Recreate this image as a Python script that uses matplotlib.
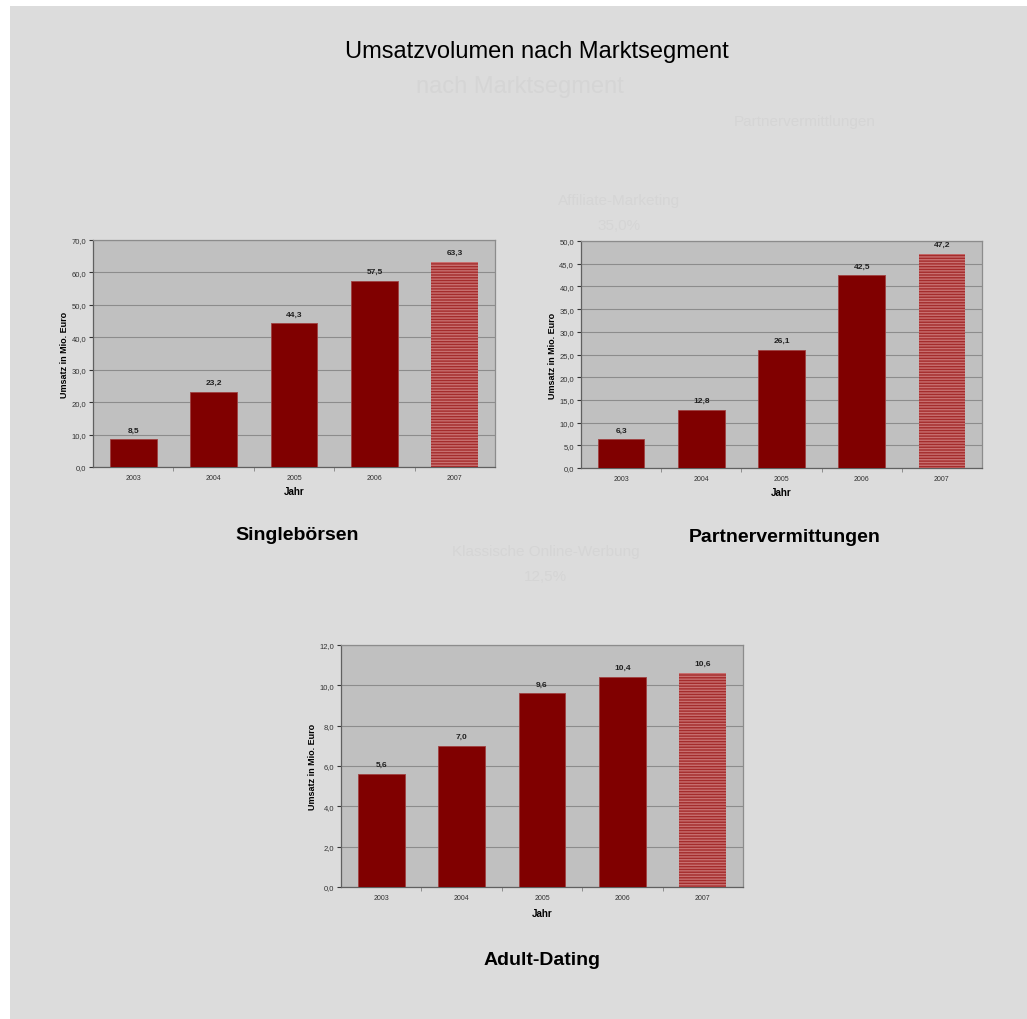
import matplotlib
matplotlib.use('Agg')
import matplotlib.pyplot as plt
from matplotlib.patches import Rectangle
from matplotlib.ticker import FuncFormatter, MultipleLocator, FixedLocator

plt.rcParams['font.family'] = ['Liberation Sans', 'DejaVu Sans']
plt.rcParams['hatch.linewidth'] = 1.0

# data (Umsatz in Mio. Euro)
years = ['2003', '2004', '2005', '2006', '2007']
singleboersen = [8.5, 23.2, 44.3, 57.5, 63.3]
partnervermittlungen = [6.3, 12.8, 26.1, 42.5, 47.2]
adult_dating = [5.6, 7.0, 9.6, 10.4, 10.6]

BG = '#dcdcdc'
PLOT_BG = '#c0c0c0'
BAR = '#800000'
GHOST = '#d5d5d5'

fig = plt.figure(figsize=(10.27, 10.20), dpi=100)
fig.patch.set_facecolor('white')
fig.patches.append(Rectangle((10 / 1027, 0), 1, 1013 / 1020, transform=fig.transFigure,
                             facecolor=BG, edgecolor='none', zorder=-10))

# faint leftovers of an older slide underneath
fig.text(0.506, 0.915, 'nach Marktsegment', ha='center', va='center', fontsize=17, color=GHOST)
fig.text(0.784, 0.880, 'Partnervermittlungen', ha='center', va='center', fontsize=11, color=GHOST)
fig.text(0.603, 0.803, 'Affiliate-Marketing', ha='center', va='center', fontsize=11, color=GHOST)
fig.text(0.603, 0.778, '35,0%', ha='center', va='center', fontsize=11, color=GHOST)
fig.text(0.531, 0.459, 'Klassische Online-Werbung', ha='center', va='center', fontsize=11, color=GHOST)
fig.text(0.531, 0.434, '12,5%', ha='center', va='center', fontsize=11, color=GHOST)

fig.text(0.523, 0.949, 'Umsatzvolumen nach Marktsegment', ha='center', va='center',
         fontsize=17, color='black')


def comma(v, pos=None):
    return ('%.1f' % v).replace('.', ',')


def panel(rect, values, ymax, step, title, title_xy):
    ax = fig.add_axes(rect)
    ax.set_facecolor(PLOT_BG)
    x = range(len(years))
    ax.bar(x[:-1], values[:-1], width=0.58, color=BAR, edgecolor='#a04040',
           linewidth=0.6, zorder=3)
    # forecast year drawn with a pattern
    ax.bar(x[-1], values[-1], width=0.58, facecolor='#a42c2c', edgecolor='#c87070',
           hatch='------', linewidth=0, zorder=3)
    for xi, v in zip(x, values):
        ax.text(xi, v + ymax * 0.025, comma(v), ha='center', va='bottom',
                fontsize=6, fontweight='bold', color='#202020', zorder=4)
    ax.set_xlim(-0.5, len(years) - 0.5)
    ax.set_ylim(0, ymax)
    ax.yaxis.set_major_locator(MultipleLocator(step))
    ax.yaxis.set_major_formatter(FuncFormatter(comma))
    ax.yaxis.grid(True, color='#8c8c8c', linewidth=0.8, zorder=1)
    ax.set_xticks(list(x))
    ax.set_xticklabels(years)
    ax.xaxis.set_minor_locator(FixedLocator([i + 0.5 for i in range(len(years) - 1)]))
    ax.tick_params(axis='x', which='major', length=0, labelsize=5, colors='#333333', pad=5)
    ax.tick_params(axis='x', which='minor', length=3, color='#808080')
    ax.tick_params(axis='y', length=3, labelsize=5.5, colors='#333333', pad=2)
    for s in ax.spines.values():
        s.set_color('#8c8c8c')
        s.set_linewidth(0.9)
    ax.spines['bottom'].set_color('#606060')
    ax.spines['left'].set_color('#606060')
    ax.set_ylabel('Umsatz in Mio. Euro', fontsize=6.5, fontweight='bold')
    ax.set_xlabel('Jahr', fontsize=7, fontweight='bold')
    ax.yaxis.set_label_coords(-0.06, 0.5)
    ax.xaxis.set_label_coords(0.5, -0.085)
    fig.text(title_xy[0], title_xy[1], title, ha='center', va='center',
             fontsize=14, fontweight='bold', color='black')
    return ax


panel([93 / 1027, 552 / 1020, 402 / 1027, 227 / 1020], singleboersen, 70, 10,
      'Singlebörsen', (297 / 1027, 1 - 536 / 1020))
panel([581 / 1027, 551 / 1020, 401 / 1027, 227 / 1020], partnervermittlungen, 50, 5,
      'Partnervermittungen', (785 / 1027, 1 - 537 / 1020))
panel([341 / 1027, 132 / 1020, 402 / 1027, 242 / 1020], adult_dating, 12, 2,
      'Adult-Dating', (542 / 1027, 1 - 961 / 1020))

fig.savefig('out.png', dpi=100)
